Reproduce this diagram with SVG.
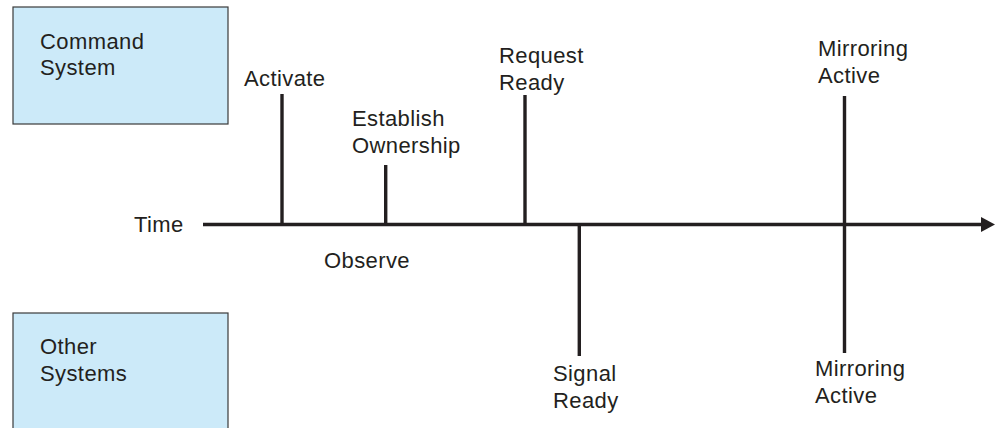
<svg xmlns="http://www.w3.org/2000/svg" width="996" height="428" viewBox="0 0 996 428">
<style>
text{font-family:"Liberation Sans",Arial,sans-serif;font-size:22px;letter-spacing:0.4px;fill:#231f20}
.box{fill:#cceaf9;stroke:#3a3a3a;stroke-width:1.2}
.ln{stroke:#231f20;stroke-width:3.4;fill:none}
</style>
<defs>
<marker id="ah" markerUnits="userSpaceOnUse" markerWidth="16" markerHeight="18" refX="2" refY="8" orient="auto">
<path d="M0,0.5 L14,8 L0,15.5 Z" fill="#231f20"/>
</marker>
</defs>
<g id="command-system">
<rect class="box" x="13" y="7" width="215" height="117"/>
<text x="40" y="49">Command</text>
<text x="40" y="75">System</text>
</g>
<g id="other-systems">
<rect class="box" x="13" y="313" width="215" height="120"/>
<text x="40" y="354">Other</text>
<text x="40" y="381">Systems</text>
</g>
<g id="time-label"><text x="134" y="232">Time</text></g>
<g id="activate"><text x="244" y="86">Activate</text></g>
<g id="establish-ownership"><text x="352" y="126">Establish</text><text x="352" y="153">Ownership</text></g>
<g id="observe"><text x="324" y="268">Observe</text></g>
<g id="request-ready"><text x="499" y="63">Request</text><text x="499" y="90">Ready</text></g>
<g id="signal-ready"><text x="553" y="381">Signal</text><text x="553" y="408">Ready</text></g>
<g id="mirroring-active-top"><text x="818" y="56">Mirroring</text><text x="818" y="83">Active</text></g>
<g id="mirroring-active-bottom"><text x="815" y="376">Mirroring</text><text x="815" y="403">Active</text></g>
<g id="connectors">
<line class="ln" x1="203" y1="224.5" x2="983" y2="224.5" marker-end="url(#ah)"/>
<line class="ln" x1="282" y1="94" x2="282" y2="224.5"/>
<line class="ln" x1="385.7" y1="165" x2="385.7" y2="224.5"/>
<line class="ln" x1="525" y1="95" x2="525" y2="224.5"/>
<line class="ln" x1="579.3" y1="224.5" x2="579.3" y2="356"/>
<line class="ln" x1="844.5" y1="96" x2="844.5" y2="353"/>
</g>
</svg>
